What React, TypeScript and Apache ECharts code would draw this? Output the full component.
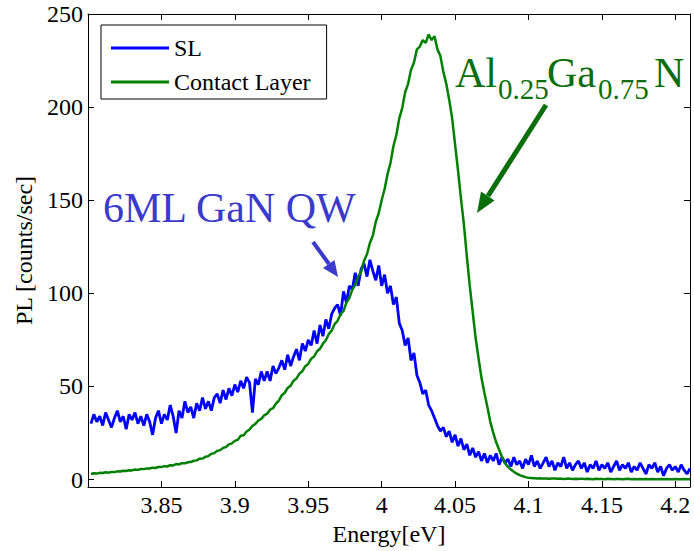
import { useEffect, useRef } from "react";
import * as echarts from "echarts";

// Photon energy grid of the measurement (eV)
const ENERGY_START = 3.802;
const ENERGY_STEP = 0.002;

// SL (superlattice) PL counts
const SL_COUNTS = [
  30, 35, 31, 34, 29, 36, 32, 28, 33, 37,
  31, 34, 27, 35, 32, 36, 30, 34, 29, 35,
  31, 24, 33, 37, 30, 35, 32, 40, 34, 25,
  37, 33, 42, 36, 39, 33, 41, 37, 44, 38,
  42, 37, 44, 46, 41, 48, 43, 49, 45, 51,
  47, 53, 49, 55, 52, 36, 54, 51, 58, 53,
  58, 53, 61, 57, 60, 64, 59, 67, 61, 66,
  70, 64, 73, 69, 75, 72, 80, 73, 83, 77,
  86, 81, 89, 92, 94, 88, 101, 95, 104, 102,
  111, 104, 113, 116, 109, 118, 112, 107, 115, 104,
  110, 100, 104, 94, 98, 84, 80, 72, 76, 64,
  68, 56, 52, 46, 48, 40, 37, 33, 29, 26,
  28, 23, 26, 20, 24, 18, 22, 16, 19, 13,
  17, 12, 15, 10, 14, 9, 13, 10, 14, 8,
  12, 9, 11, 7, 12, 8, 10, 6, 11, 8,
  13, 7, 10, 6, 9, 12, 7, 10, 5, 9,
  7, 12, 6, 9, 5, 8, 10, 6, 9, 4,
  8, 6, 10, 5, 8, 6, 9, 4, 7, 10,
  5, 8, 6, 9, 4, 7, 5, 9, 6, 3,
  8, 6, 9, 4, 7, 2, 6, 8, 5, 7,
  4, 8, 5, 3, 6,
];

// Contact layer PL counts
const CONTACT_COUNTS = [
  3.0, 3.4, 3.2, 3.6, 3.5, 3.9, 3.7, 4.1, 4.0, 4.4,
  4.3, 4.7, 4.6, 5.0, 4.9, 5.4, 5.2, 5.7, 5.6, 6.0,
  5.9, 6.4, 6.2, 6.8, 6.7, 7.2, 7.0, 7.7, 7.6, 8.3,
  8.1, 8.8, 8.7, 9.3, 9.4, 10.1, 10.3, 11.2, 11.3, 12.2,
  12.6, 13.8, 14.2, 15.4, 15.8, 17.0, 17.5, 18.9, 19.4, 20.8,
  21.3, 23.5, 23.8, 25.8, 26.9, 28.8, 29.9, 31.7, 32.6, 34.5,
  35.4, 37.5, 38.3, 40.8, 42.4, 45.3, 46.6, 49.2, 50.4, 53.1,
  54.3, 56.9, 58.2, 60.9, 62.1, 64.9, 66.1, 68.9, 70.2, 73.0,
  74.8, 78.2, 80.0, 83.5, 85.3, 88.8, 90.5, 95.0, 97.5, 102.0,
  104.5, 109.0, 111.5, 117.5, 121.0, 127.0, 131.0, 138.5, 143.0, 150.0,
  156.0, 164.0, 170.0, 179.0, 185.0, 194.0, 199.5, 208.0, 212.5, 220.0,
  224.0, 231.0, 232.5, 236.0, 234.5, 239.0, 236.0, 238.0, 231.0, 227.5,
  219.0, 212.5, 204.0, 194.0, 180.0, 166.0, 151.0, 137.0, 120.0, 104.0,
  90.0, 76.0, 65.0, 54.5, 46.5, 39.0, 31.0, 25.0, 20.0, 16.0,
  12.0, 8.8, 6.8, 5.4, 4.2, 3.2, 2.4, 1.8, 1.3, 0.9,
  0.8, 0.7, 0.6, 0.7, 0.5, 0.6, 0.4, 0.5, 0.6, 0.4,
  0.5, 0.3, 0.4, 0.5, 0.3, 0.4, 0.3, 0.5, 0.3, 0.4,
  0.3, 0.2, 0.4, 0.3, 0.3, 0.2, 0.4, 0.3, 0.2, 0.3,
  0.3, 0.2, 0.3, 0.4, 0.2, 0.3, 0.2, 0.3, 0.2, 0.3,
  0.2, 0.3, 0.2, 0.2, 0.3, 0.2, 0.3, 0.2, 0.2, 0.3,
  0.2, 0.2, 0.3, 0.2, 0.2,
];

const SERIES_NAMES = ["SL", "Contact Layer"];
const X_TICKS = [3.85, 3.9, 3.95, 4, 4.05, 4.1, 4.15, 4.2];
const Y_TICKS = [0, 50, 100, 150, 200, 250];
const X_MIN = 3.8;
const X_MAX = 4.21;
const Y_MIN = -4;
const Y_MAX = 250;

const FONT = "'Liberation Serif', 'Times New Roman', serif";
const BLUE = "#0000ff";
const GREEN = "#008000";
const NOTE_BLUE = "#3a3acc";
const NOTE_GREEN = "#0a6e0a";

function toPairs(vals: number[]) {
  return vals.map((v, i) => [+(ENERGY_START + i * ENERGY_STEP).toFixed(3), v]);
}

export default function App() {
  const ref = useRef<HTMLDivElement>(null);
  useEffect(() => {
    const chart = echarts.init(ref.current!, null, { renderer: "svg" });
    const frameAxis = (extra: any) => ({
      type: "value",
      axisLine: { show: true, onZero: false, lineStyle: { color: "#000", width: 1 } },
      splitLine: { show: false },
      ...extra,
    });
    const labelStyle = { fontFamily: FONT, fontSize: 24, color: "#000" };
    chart.setOption({
      animation: false,
      backgroundColor: "#fff",
      grid: { left: 88, right: 4, top: 14, bottom: 64 },
      legend: {
        data: SERIES_NAMES,
        orient: "vertical",
        left: 101,
        top: 25,
        icon: "rect",
        itemWidth: 58,
        itemHeight: 3,
        itemGap: 10,
        padding: [11, 16, 5, 10],
        borderColor: "#000",
        borderWidth: 1,
        backgroundColor: "#fff",
        textStyle: labelStyle,
      },
      xAxis: [
        frameAxis({
          min: X_MIN,
          max: X_MAX,
          position: "bottom",
          axisTick: { inside: true, length: 6, customValues: X_TICKS, lineStyle: { color: "#000" } },
          axisLabel: { ...labelStyle, margin: 6, customValues: X_TICKS },
          name: "Energy[eV]",
          nameLocation: "middle",
          nameGap: 34,
          nameTextStyle: labelStyle,
        }),
        frameAxis({
          min: X_MIN,
          max: X_MAX,
          position: "top",
          axisTick: { inside: true, length: 6, customValues: X_TICKS, lineStyle: { color: "#000" } },
          axisLabel: { show: false },
        }),
      ],
      yAxis: [
        frameAxis({
          min: Y_MIN,
          max: Y_MAX,
          position: "left",
          axisTick: { inside: true, length: 6, customValues: Y_TICKS, lineStyle: { color: "#000" } },
          axisLabel: { ...labelStyle, margin: 5, customValues: Y_TICKS },
          name: "PL [counts/sec]",
          nameLocation: "middle",
          nameGap: 46,
          nameTextStyle: labelStyle,
        }),
        frameAxis({
          min: Y_MIN,
          max: Y_MAX,
          position: "right",
          axisTick: { inside: true, length: 6, customValues: Y_TICKS, lineStyle: { color: "#000" } },
          axisLabel: { show: false },
        }),
      ],
      series: [
        {
          name: SERIES_NAMES[0],
          type: "line",
          xAxisIndex: 0,
          yAxisIndex: 0,
          data: toPairs(SL_COUNTS),
          showSymbol: false,
          symbol: "none",
          lineStyle: { color: BLUE, width: 2.8 },
          itemStyle: { color: BLUE },
          z: 2,
        },
        {
          name: SERIES_NAMES[1],
          type: "line",
          xAxisIndex: 0,
          yAxisIndex: 0,
          data: toPairs(CONTACT_COUNTS),
          showSymbol: false,
          symbol: "none",
          lineStyle: { color: GREEN, width: 2.5 },
          itemStyle: { color: GREEN },
          z: 3,
        },
      ],
      graphic: [
        {
          type: "text",
          x: 103,
          y: 208,
          z: 100,
          style: { text: "6ML GaN QW", font: `42px ${FONT}`, fill: NOTE_BLUE, textAlign: "left", textVerticalAlign: "middle" },
        },
        { type: "line", z: 100, shape: { x1: 313, y1: 242, x2: 329, y2: 264 }, style: { stroke: NOTE_BLUE, lineWidth: 4 } },
        { type: "polygon", z: 100, shape: { points: [[338, 277], [323, 268], [334.5, 260]] }, style: { fill: NOTE_BLUE } },
        {
          type: "text",
          x: 455,
          y: 72.5,
          z: 100,
          style: { text: "Al", font: `42px ${FONT}`, fill: NOTE_GREEN, textAlign: "left", textVerticalAlign: "middle" },
        },
        {
          type: "text",
          x: 498,
          y: 88.5,
          z: 100,
          style: { text: "0.25", font: `29px ${FONT}`, fill: NOTE_GREEN, textAlign: "left", textVerticalAlign: "middle" },
        },
        {
          type: "text",
          x: 547,
          y: 72.5,
          z: 100,
          style: { text: "Ga", font: `42px ${FONT}`, fill: NOTE_GREEN, textAlign: "left", textVerticalAlign: "middle" },
        },
        {
          type: "text",
          x: 598,
          y: 88.5,
          z: 100,
          style: { text: "0.75", font: `29px ${FONT}`, fill: NOTE_GREEN, textAlign: "left", textVerticalAlign: "middle" },
        },
        {
          type: "text",
          x: 654,
          y: 72.5,
          z: 100,
          style: { text: "N", font: `42px ${FONT}`, fill: NOTE_GREEN, textAlign: "left", textVerticalAlign: "middle" },
        },
        { type: "line", z: 100, shape: { x1: 546, y1: 105, x2: 488, y2: 196 }, style: { stroke: NOTE_GREEN, lineWidth: 5 } },
        { type: "polygon", z: 100, shape: { points: [[477, 213], [494.5, 200.5], [481, 191.5]] }, style: { fill: NOTE_GREEN } },
      ],
    });
    return () => chart.dispose();
  }, []);
  return <div ref={ref} style={{ position: "fixed", left: 0, top: 0, width: 694, height: 551 }} />;
}
